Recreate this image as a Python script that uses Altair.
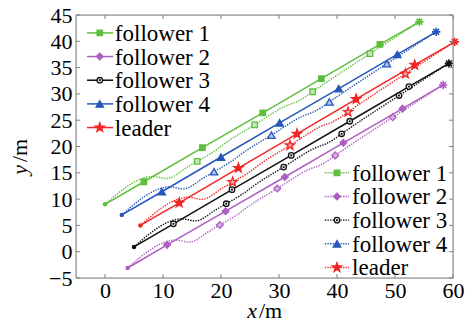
import altair as alt
import pandas as pd

FONT = "Liberation Serif"

series = ["follower 1", "follower 2", "follower 3", "follower 4", "leader"]
colors = ["#5ebf3c", "#ad5ec1", "#111111", "#2556b8", "#f12525"]
tints = ["#c6e8b6", "#d9b3e3", "#ffffff", "#b3c6ea", "#f8a5a5"]

x_ticks = [0, 10, 20, 30, 40, 50, 60]
y_ticks = [-5, 0, 5, 10, 15, 20, 25, 30, 35, 40, 45]

# planned (solid) paths: start point, five markers, end point
f1_x = [0.0, 6.7, 16.8, 27.2, 37.3, 47.4, 54.2]
f1_y = [9.0, 13.3, 19.8, 26.4, 32.9, 39.4, 43.7]
f2_x = [3.9, 10.7, 20.8, 31.0, 41.1, 51.3, 58.3]
f2_y = [-3.1, 1.3, 7.7, 14.2, 20.7, 27.2, 31.7]
f3_x = [5.0, 11.8, 21.9, 32.1, 42.2, 52.4, 59.3]
f3_y = [0.9, 5.3, 11.8, 18.3, 24.8, 31.4, 35.8]
f4_x = [2.9, 9.8, 20.0, 30.1, 40.3, 50.4, 57.1]
f4_y = [7.0, 11.4, 18.0, 24.5, 31.0, 37.5, 41.8]
ld_x = [6.1, 12.8, 23.0, 33.1, 43.3, 53.4, 60.3]
ld_y = [5.0, 9.3, 15.9, 22.4, 29.0, 35.5, 39.9]

# actual (dotted) paths
d1_x = [0.0, 8.3, 9.3, 10.5, 11.5, 12.5, 13.5, 15.9, 18.3, 19.3, 20.3, 25.8, 31.5, 33.0, 34.3, 35.8, 45.7, 54.2]
d1_y = [9.0, 14.31, 14.15, 13.92, 14.16, 14.80, 15.59, 17.18, 18.71, 19.45, 20.29, 24.11, 27.86, 28.47, 29.25, 30.41, 37.65, 43.7]
d2_x = [3.9, 12.2, 13.2, 14.4, 15.4, 16.4, 17.4, 19.8, 22.2, 23.2, 24.2, 29.7, 35.4, 36.9, 38.2, 39.7, 49.6, 58.3]
d2_y = [-3.1, 2.21, 2.05, 1.82, 2.06, 2.70, 3.49, 5.08, 6.61, 7.35, 8.19, 12.01, 15.76, 16.37, 17.15, 18.31, 25.55, 31.7]
d3_x = [5.0, 13.3, 14.3, 15.5, 16.5, 17.5, 18.5, 20.9, 23.3, 24.3, 25.3, 30.8, 36.5, 38.0, 39.3, 40.8, 50.7, 59.3]
d3_y = [0.9, 6.24, 6.08, 5.85, 6.09, 6.74, 7.53, 9.12, 10.67, 11.41, 12.25, 16.09, 19.85, 20.47, 21.25, 22.42, 29.69, 35.8]
d4_x = [2.9, 11.2, 12.2, 13.4, 14.4, 15.4, 16.4, 18.8, 21.2, 22.2, 23.2, 28.7, 34.4, 35.9, 37.2, 38.7, 48.6, 57.1]
d4_y = [7.0, 12.33, 12.17, 11.94, 12.18, 12.83, 13.62, 15.21, 16.75, 17.49, 18.33, 22.16, 25.92, 26.54, 27.32, 28.48, 35.74, 41.8]
dl_x = [6.1, 14.4, 15.4, 16.6, 17.6, 18.6, 19.6, 22.0, 24.4, 25.4, 26.4, 31.9, 37.6, 39.1, 40.4, 41.9, 51.8, 60.3]
dl_y = [5.0, 10.35, 10.19, 9.96, 10.21, 10.85, 11.64, 13.24, 14.79, 15.53, 16.37, 20.22, 23.99, 24.60, 25.39, 26.56, 33.83, 39.9]
dot_marker_idx = [7, 11, 15, 16]

STAR = ("M0,-1L0.236,-0.325L0.951,-0.309L0.382,0.124L0.588,0.809L0,0.4"
        "L-0.588,0.809L-0.382,0.124L-0.951,-0.309L-0.236,-0.325Z")
AST = "M-1,0L1,0M0,-1L0,1M-0.7,-0.7L0.7,0.7M-0.7,0.7L0.7,-0.7"
shapes = ["square", "diamond", "circle", "triangle-up", STAR]
sizes = [30, 45, 30, 55, 95]

sol_pairs = [(f1_x, f1_y), (f2_x, f2_y), (f3_x, f3_y), (f4_x, f4_y), (ld_x, ld_y)]
dot_pairs = [(d1_x, d1_y), (d2_x, d2_y), (d3_x, d3_y), (d4_x, d4_y), (dl_x, dl_y)]

sol_rows, dot_rows, mk_rows = [], [], []
for name, (xs_, ys_) in zip(series, sol_pairs):
    n = len(xs_)
    for i, (x, y) in enumerate(zip(xs_, ys_)):
        kind = "start" if i == 0 else ("end" if i == n - 1 else "mark")
        sol_rows.append(dict(series=name, i=i, x=x, y=y, kind=kind))
        if kind == "mark":
            mk_rows.append(dict(series=name, x=x, y=y, grp="sol"))
for name, (xs_, ys_) in zip(series, dot_pairs):
    for i, (x, y) in enumerate(zip(xs_, ys_)):
        dot_rows.append(dict(series=name, i=i, x=x, y=y))
        if i in dot_marker_idx:
            mk_rows.append(dict(series=name, x=x, y=y, grp="dot"))

# legend layout (in data units)
L1_TOP, L2_TOP, L_STEP = 41.6, 15.0, 4.5
leg_rows = []
for k, name in enumerate(series):
    leg_rows.append(dict(series=name, grp="leg1", ly=L1_TOP - L_STEP * k,
                         x0=-3.1, x1=1.4, xm=-0.9, xt=1.7))
    leg_rows.append(dict(series=name, grp="leg2", ly=L2_TOP - L_STEP * k,
                         x0=37.9, x1=42.1, xm=40.0, xt=42.6))
leg_df = pd.DataFrame(leg_rows)
for r in leg_rows:
    mk_rows.append(dict(series=r["series"], x=r["xm"], y=r["ly"], grp=r["grp"]))

sol_df = pd.DataFrame(sol_rows)
dot_df = pd.DataFrame(dot_rows)
mk_df = pd.DataFrame(mk_rows)

xs = alt.Scale(domain=[-5, 60], nice=False, zero=False)
ys = alt.Scale(domain=[-5, 45], nice=False, zero=False)
xaxis = alt.Axis(values=x_ticks, ticks=False, domain=False, grid=False, title=None,
                 labelFont=FONT, labelFontSize=22, labelColor="black", labelPadding=2,
                 labelFlush=False)
yaxis = alt.Axis(values=y_ticks, ticks=False, domain=False, grid=False, title=None,
                 labelFont=FONT, labelFontSize=22, labelColor="black", labelPadding=4,
                 labelFlush=False)
cs = alt.Scale(domain=series, range=colors)


def X(f):
    return alt.X(f, type="quantitative", scale=xs, axis=xaxis)


def Y(f):
    return alt.Y(f, type="quantitative", scale=ys, axis=yaxis)


C = alt.Color("series:N", scale=cs, legend=None)
one = pd.DataFrame({"a": [0]})

layers = []
layers.append(alt.Chart(dot_df).mark_line(strokeWidth=1.4, strokeDash=[1.4, 1.2],
                                          interpolate="monotone").encode(
    x=X("x"), y=Y("y"), color=C, detail="series:N", order="i:Q"))
layers.append(alt.Chart(sol_df).mark_line(strokeWidth=1.5).encode(
    x=X("x"), y=Y("y"), color=C, detail="series:N", order="i:Q"))
layers.append(alt.Chart(sol_df).transform_filter("datum.kind == 'start'").mark_circle(
    size=20, opacity=1).encode(x=X("x"), y=Y("y"), color=C))
layers.append(alt.Chart(sol_df).transform_filter("datum.kind == 'end'").mark_point(
    shape=AST, size=70, strokeWidth=1.6, filled=False, opacity=1).encode(
    x=X("x"), y=Y("y"), color=C))

# legend lines
layers.append(alt.Chart(leg_df).transform_filter("datum.grp == 'leg1'").mark_rule(
    strokeWidth=1.5).encode(x=X("x0"), x2="x1", y=Y("ly"), color=C))
layers.append(alt.Chart(leg_df).transform_filter("datum.grp == 'leg2'").mark_rule(
    strokeWidth=1.4, strokeDash=[1.4, 1.2]).encode(x=X("x0"), x2="x1", y=Y("ly"), color=C))
layers.append(alt.Chart(leg_df).mark_text(
    align="left", baseline="middle", font=FONT, fontSize=23, color="black", dy=1).encode(
    x=X("xt"), y=Y("ly"), text="series:N"))

for k, name in enumerate(series):
    filt_solid = f"datum.series == '{name}' && datum.grp != 'dot'"
    filt_dot = f"datum.series == '{name}' && datum.grp == 'dot'"
    solid_fill = "white" if name == "follower 3" else colors[k]
    layers.append(alt.Chart(mk_df).transform_filter(filt_solid).mark_point(
        shape=shapes[k], size=sizes[k], filled=True, fill=solid_fill, stroke=colors[k],
        strokeWidth=1.3, opacity=1, fillOpacity=1).encode(x=X("x"), y=Y("y")))
    layers.append(alt.Chart(mk_df).transform_filter(filt_dot).mark_point(
        shape=shapes[k], size=sizes[k], filled=True, fill=tints[k], stroke=colors[k],
        strokeWidth=1.3, opacity=1, fillOpacity=1).encode(x=X("x"), y=Y("y")))
    if name == "follower 3":
        layers.append(alt.Chart(mk_df).transform_filter(f"datum.series == '{name}'").mark_circle(
            size=5, color=colors[k], opacity=1).encode(x=X("x"), y=Y("y")))

# inward ticks on all four sides
xt_df = pd.DataFrame({"t": x_ticks})
yt_df = pd.DataFrame({"t": y_ticks})
TICK = dict(color="#808080", strokeWidth=1)
layers.append(alt.Chart(xt_df).mark_rule(**TICK).encode(x=X("t"), y=alt.value(263), y2=alt.value(259)))
layers.append(alt.Chart(xt_df).mark_rule(**TICK).encode(x=X("t"), y=alt.value(0), y2=alt.value(4)))
layers.append(alt.Chart(yt_df).mark_rule(**TICK).encode(y=Y("t"), x=alt.value(0), x2=alt.value(4)))
layers.append(alt.Chart(yt_df).mark_rule(**TICK).encode(y=Y("t"), x=alt.value(377), x2=alt.value(373)))

# frame
layers.append(alt.Chart(one).mark_rule(**TICK).encode(x=alt.value(0), x2=alt.value(377), y=alt.value(0)))
layers.append(alt.Chart(one).mark_rule(**TICK).encode(x=alt.value(0), x2=alt.value(377), y=alt.value(263)))
layers.append(alt.Chart(one).mark_rule(**TICK).encode(y=alt.value(0), y2=alt.value(263), x=alt.value(0)))
layers.append(alt.Chart(one).mark_rule(**TICK).encode(y=alt.value(0), y2=alt.value(263), x=alt.value(377)))

# axis titles with italic variable
TT = dict(font=FONT, fontSize=22, color="black")
layers.append(alt.Chart(one).mark_text(align="right", baseline="alphabetic", fontStyle="italic", **TT).encode(
    x=alt.value(181), y=alt.value(303), text=alt.value("x")))
layers.append(alt.Chart(one).mark_text(align="left", baseline="alphabetic", **TT).encode(
    x=alt.value(183), y=alt.value(303), text=alt.value("/m")))
layers.append(alt.Chart(one).mark_text(align="right", baseline="middle", angle=270, fontStyle="italic", **TT).encode(
    x=alt.value(-56), y=alt.value(150), text=alt.value("y")))
layers.append(alt.Chart(one).mark_text(align="left", baseline="middle", angle=270, **TT).encode(
    x=alt.value(-56), y=alt.value(147), text=alt.value("/m")))

chart = alt.layer(*layers).properties(
    width=377, height=263,
    autosize=alt.AutoSizeParams(type="none"),
    padding={"left": 76, "top": 15, "right": 19, "bottom": 46},
)

chart.save("out.html", embed_options={"renderer": "svg", "actions": False})
